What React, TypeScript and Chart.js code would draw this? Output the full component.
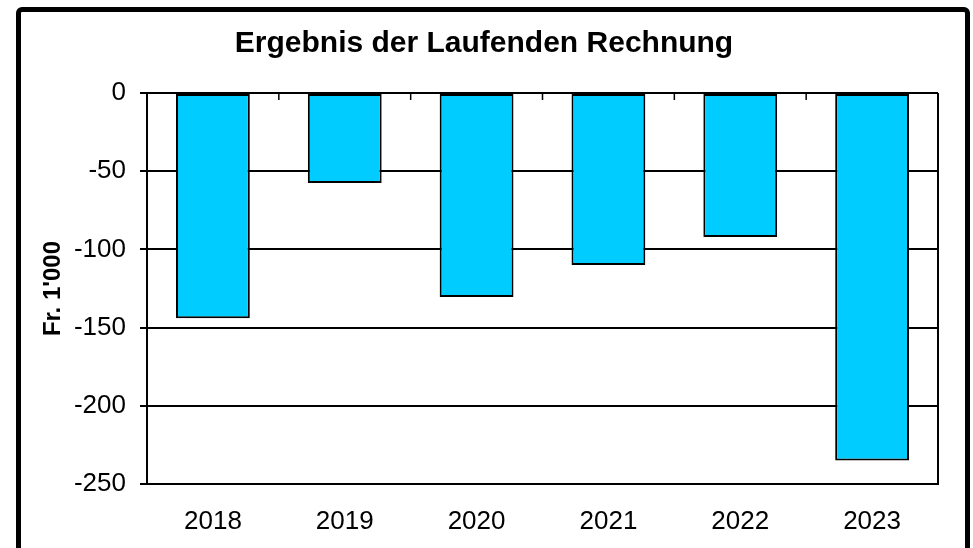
import { useEffect, useRef } from "react";
import { Chart, registerables } from "chart.js";
Chart.register(...registerables);

const categories = ["2018", "2019", "2020", "2021", "2022", "2023"];
const values = [-144, -57.5, -130.5, -110, -92, -235];
const yTicks = [0, -50, -100, -150, -200, -250];
const chartTitle = "Ergebnis der Laufenden Rechnung";
const yTitle = "Fr. 1'000";

const FONT = "'Liberation Sans', Arial, sans-serif";

const framePlugin = {
  id: "frameTicks",
  afterDraw(chart: any) {
    const { ctx, chartArea: a, scales } = chart;
    const x = scales.x;
    ctx.save();
    ctx.strokeStyle = "#000";
    ctx.lineWidth = 2;
    ctx.beginPath();
    ctx.moveTo(a.right, a.top);
    ctx.lineTo(a.right, a.bottom);
    ctx.stroke();
    ctx.lineWidth = 1.5;
    ctx.beginPath();
    for (let i = 1; i < categories.length; i++) {
      const px = (x.getPixelForValue(i - 1) + x.getPixelForValue(i)) / 2;
      ctx.moveTo(px, a.top);
      ctx.lineTo(px, a.top + 7);
    }
    ctx.stroke();
    ctx.restore();
  },
};

export default function App() {
  const ref = useRef<HTMLCanvasElement | null>(null);
  useEffect(() => {
    document.body.style.margin = "0";
    const chart = new Chart(ref.current as HTMLCanvasElement, {
      type: "bar",
      data: {
        labels: categories,
        datasets: [
          {
            data: values,
            backgroundColor: "#00CCFF",
            borderColor: "#000",
            borderWidth: 2,
            borderSkipped: false,
            barPercentage: 0.56,
            categoryPercentage: 1,
          },
        ],
      },
      options: {
        animation: false,
        responsive: true,
        maintainAspectRatio: false,
        layout: { padding: { left: 30, right: 35, top: 0, bottom: 0 } },
        plugins: {
          legend: { display: false },
          tooltip: { enabled: false },
          title: {
            display: true,
            text: chartTitle,
            color: "#000",
            font: { family: FONT, size: 30, weight: "bold" },
            padding: { top: 26, bottom: 31 },
          },
        },
        scales: {
          x: {
            grid: { display: false },
            border: { display: true, color: "#000", width: 2 },
            ticks: {
              color: "#000",
              font: { family: FONT, size: 26 },
              padding: 14,
            },
            afterFit: (s: any) => {
              s.height = 64;
            },
          },
          y: {
            min: -250,
            max: 0,
            afterBuildTicks: (s: any) => {
              s.ticks = yTicks.map((v) => ({ value: v }));
            },
            grid: { color: "#000", lineWidth: 2, tickLength: 7 },
            border: { display: true, color: "#000", width: 2 },
            ticks: {
              color: "#000",
              font: { family: FONT, size: 26 },
              padding: 14,
            },
            title: {
              display: true,
              text: yTitle,
              color: "#000",
              font: { family: FONT, size: 24, weight: "bold" },
              padding: { top: 9, bottom: 0 },
            },
            afterFit: (s: any) => {
              s.width = 117;
            },
          },
        },
      },
      plugins: [framePlugin],
    });
    return () => chart.destroy();
  }, []);
  return (
    <div
      style={{
        position: "fixed",
        left: 0,
        top: 0,
        width: 973,
        height: 548,
        overflow: "hidden",
        background: "#fff",
      }}
    >
      <div
        style={{
          position: "absolute",
          left: 16,
          top: 7,
          width: 944,
          height: 600,
          border: "5px solid #000",
          borderRadius: 6,
        }}
      />
      <div style={{ position: "absolute", left: 0, top: 0, width: 973, height: 548 }}>
        <canvas ref={ref} />
      </div>
    </div>
  );
}
